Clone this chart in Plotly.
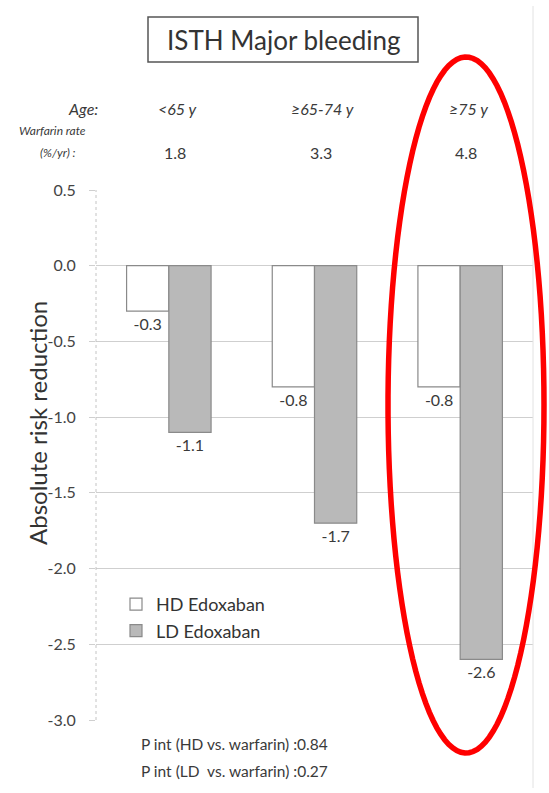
import numpy as np
import plotly.graph_objects as go

# Age groups and warfarin event rates
age_groups = ["<65 y", "≥65-74 y", "≥75 y"]
warfarin_rate = ["1.8", "3.3", "4.8"]

# Absolute risk reduction (%/yr) by edoxaban dose
hd_edoxaban = [-0.3, -0.8, -0.8]
ld_edoxaban = [-1.1, -1.7, -2.6]

# y-axis ticks
y_ticks = [0.5, 0.0, -0.5, -1.0, -1.5, -2.0, -2.5, -3.0]
y_tick_labels = ["0.5", "0.0", "-0.5", "-1.0", "-1.5", "-2.0", "-2.5", "-3.0"]

p_interaction = ["P int (HD vs. warfarin) :0.84", "P int (LD  vs. warfarin) :0.27"]

W, H = 549, 793
ML, MR, MT, MB = 96, 16, 190, 73
PW, PH = W - ML - MR, H - MT - MB
FONT = "Lato, 'Open Sans', sans-serif"
TXT = "#3a3a3a"


def px(x):
    return (x - ML) / PW


def py(y):
    return (H - MB - y) / PH


def note(text, x, y, size, xref="paper", xanchor="center", color=TXT, **kw):
    return dict(text=text, x=x, y=y, xref=xref, yref="paper", xanchor=xanchor,
                yanchor="middle", showarrow=False,
                font=dict(size=size, color=color, family=FONT), **kw)


fig = go.Figure()
fig.add_trace(go.Bar(
    name="HD Edoxaban", x=age_groups, y=hd_edoxaban,
    marker=dict(color="white", line=dict(color="#8a8a8a", width=1.2)),
    text=[f"{v:.1f}" for v in hd_edoxaban], textposition="outside",
    textfont=dict(size=16, color=TXT, family=FONT), cliponaxis=False,
))
fig.add_trace(go.Bar(
    name="LD Edoxaban", x=age_groups, y=ld_edoxaban,
    marker=dict(color="#b9b9b9", line=dict(color="#8a8a8a", width=1.2)),
    text=[f"{v:.1f}" for v in ld_edoxaban], textposition="outside",
    textfont=dict(size=16, color=TXT, family=FONT), cliponaxis=False,
))

shapes = []
# chart frame: dotted left axis, faint right border
shapes.append(dict(type="line", xref="paper", yref="paper", x0=0, x1=0, y0=0, y1=1,
                   line=dict(color="#c4c4c4", width=1, dash="dot")))
shapes.append(dict(type="line", xref="paper", yref="paper", x0=px(533), x1=px(533),
                   y0=py(6), y1=py(788), line=dict(color="#e2e2e2", width=1)))
# title box
shapes.append(dict(type="rect", xref="paper", yref="paper", x0=px(148), x1=px(418),
                   y0=py(62), y1=py(17), line=dict(color="#555555", width=1.5)))
# red highlight ellipse around the oldest age group
t = np.linspace(0, 2 * np.pi, 120)
cx, cy, a, b = 466, 405, 78, 348
ex = cx + a * np.cos(t)
ey = cy + b * np.sin(t)
path = "M " + " L ".join(f"{px(x):.5f},{py(y):.5f}" for x, y in zip(ex, ey)) + " Z"
shapes.append(dict(type="path", xref="paper", yref="paper", path=path,
                   line=dict(color="#ff0000", width=5.5)))

annotations = [
    note("ISTH Major bleeding", px(283), py(40), 26, color="#333333"),
    note("<i>Age:</i>", px(100), py(109), 16, xanchor="right"),
    note("<i>Warfarin rate</i>", px(52), py(131), 12),
    note("<i>(%/yr) :</i>", px(58), py(153), 12),
    note("Absolute risk reduction", px(37), py(423), 24, color="#333333", textangle=-90),
]
for i, (g, r) in enumerate(zip(age_groups, warfarin_rate)):
    annotations.append(note(f"<i>{g}</i>", i, py(109), 16, xref="x", xshift=8))
    annotations.append(note(r, i, py(152), 16, xref="x", xshift=6))
for k, s in enumerate(p_interaction):
    annotations.append(note(s, px(139), py(744 + 27 * k), 15.5, xanchor="left"))

fig.update_layout(
    width=W, height=H, margin=dict(l=ML, r=MR, t=MT, b=MB),
    paper_bgcolor="white", plot_bgcolor="white",
    barmode="group", bargap=0.42, bargroupgap=0,
    font=dict(family=FONT, color=TXT),
    showlegend=True,
    legend=dict(x=px(116), y=py(586), xanchor="left", yanchor="top",
                bgcolor="rgba(0,0,0,0)", font=dict(size=18, color="#333333", family=FONT),
                itemwidth=30, tracegroupgap=0),
    shapes=shapes, annotations=annotations,
    xaxis=dict(showticklabels=False, showgrid=False, showline=False, zeroline=False,
               range=[-0.5, 2.5]),
    yaxis=dict(range=[-3.0, 0.5], tickvals=y_ticks, ticktext=y_tick_labels,
               showgrid=True, gridcolor="#cfcfcf", gridwidth=1,
               zeroline=True, zerolinecolor="#cfcfcf", zerolinewidth=1,
               ticks="outside", ticklen=6, tickcolor="#cfcfcf", ticklabelstandoff=10,
               tickfont=dict(size=16, color="#444444", family=FONT), showline=False),
)

fig.write_html("out.html")
